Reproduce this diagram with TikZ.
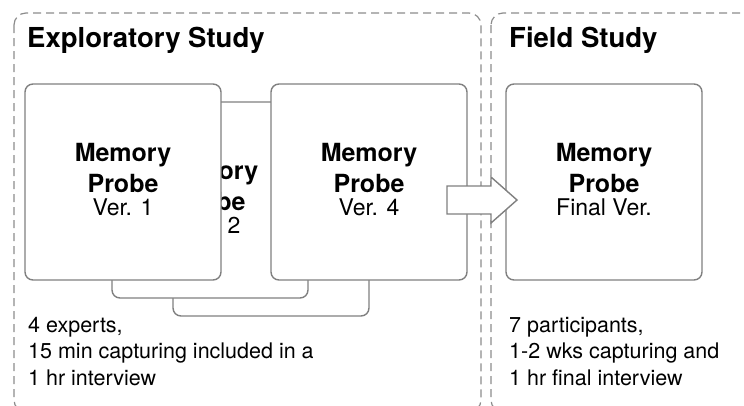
\documentclass[tikz,border=0pt]{standalone}
\usepackage{fontspec}
\setmainfont{TeX Gyre Heros}
\definecolor{zonegray}{RGB}{140,140,140}
\definecolor{cardgray}{RGB}{128,128,128}
\begin{document}
\begin{tikzpicture}[x=1pt,y=-1pt,
  zone/.style={draw=zonegray, line width=1.2pt, dash pattern=on 8pt off 5pt, rounded corners=12pt},
  card/.style={draw=cardgray, line width=1.4pt, fill=white, rounded corners=8pt,
    minimum width=196pt, minimum height=196pt, inner sep=0pt},
  bigtxt/.style={anchor=base, inner sep=0pt, font=\fontsize{25}{30}\selectfont\bfseries},
  vertxt/.style={anchor=base, inner sep=0pt, font=\fontsize{23}{26}\selectfont},
  titletxt/.style={anchor=base west, inner sep=0pt, font=\fontsize{27.5}{30}\selectfont\bfseries},
  notetxt/.style={anchor=base west, inner sep=0pt, align=left, font=\fontsize{21.5}{26.5}\selectfont},
  blockarrow/.style={draw=cardgray, line width=1.4pt, fill=white, line join=miter}]
\useasboundingbox (0,0) rectangle (744,405);
\clip (0,0) rectangle (744,405);
% study zones
\draw[zone] (14,13) rectangle (481,412);
\draw[zone] (491,13) rectangle (770,412);
\node[titletxt] (t1) at (27,47) {Exploratory Study};
\node[titletxt] (t2) at (509,47) {Field Study};
% stacked probe cards
\node[card] (c3) at (271,218) {};
\node[card] (c2) at (210,200) {};
\node[bigtxt] (c2a) at (210,179) {Memory};
\node[bigtxt] (c2b) at (210,210) {Probe};
\node[vertxt] (c2c) at (210,233) {Ver. 2};
\node[card] (c1) at (123,182) {};
\node[bigtxt] (c1a) at (123,161) {Memory};
\node[bigtxt] (c1b) at (123,192) {Probe};
\node[vertxt] (c1c) at (123,215) {Ver. 1};
\node[card] (c4) at (369,182) {};
\node[bigtxt] (c4a) at (369,161) {Memory};
\node[bigtxt] (c4b) at (369,192) {Probe};
\node[vertxt] (c4c) at (369,215) {Ver. 4};
\node[card] (cf) at (604,182) {};
\node[bigtxt] (cfa) at (604,161) {Memory};
\node[bigtxt] (cfb) at (604,192) {Probe};
\node[vertxt] (cfc) at (604,215) {Final Ver.};
% block arrow
\coordinate (as1) at (447,186);
\coordinate (as2) at (491,186);
\coordinate (ah1) at (491,177);
\coordinate (tip) at (517,200);
\coordinate (ah2) at (491,223);
\coordinate (as3) at (491,214);
\coordinate (as4) at (447,214);
\draw[blockarrow] (as1) -- (as2) -- (ah1) -- (tip) -- (ah2) -- (as3) -- (as4) -- cycle;
% notes
\node[notetxt] (n1) at (28,385) {4 experts,\\15 min capturing included in a\\1 hr interview};
\node[notetxt] (n2) at (509,385) {7 participants,\\1-2 wks capturing and\\1 hr final interview};
\end{tikzpicture}
\end{document}
